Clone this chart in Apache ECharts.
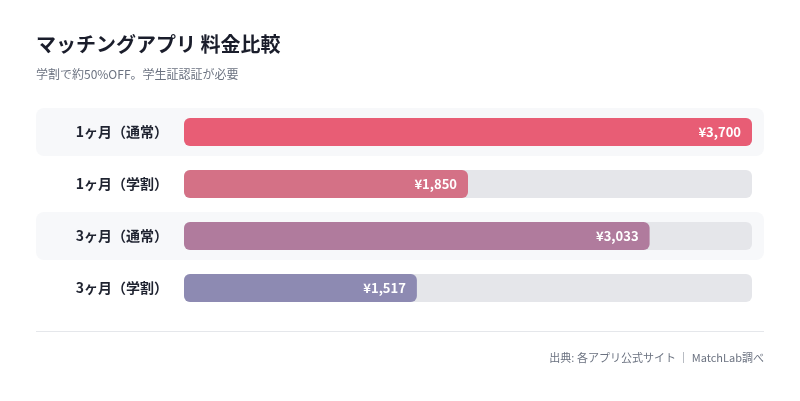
<!DOCTYPE html>
<html>
<head>
<meta charset="utf-8">
<script src="https://cdn.jsdelivr.net/npm/echarts@6/dist/echarts.min.js"></script>
<style>
  html, body { margin: 0; padding: 0; background: #fff; }
  #main { width: 800px; height: 401px; }
</style>
</head>
<body>
<div id="main"></div>
<script>
  // データ
  var plans = ['1ヶ月（通常）', '1ヶ月（学割）', '3ヶ月（通常）', '3ヶ月（学割）'];
  var prices = [3700, 1850, 3033, 1517];
  var barColors = ['#e85d75', '#d47186', '#b07b9d', '#8d8ab2'];
  var stripedRows = [0, 2];

  var FONT = '"Noto Sans CJK JP", "Noto Sans", sans-serif';
  var myChart = echarts.init(document.getElementById('main'));

  var option = {
    backgroundColor: '#ffffff',
    animation: false,
    textStyle: { fontFamily: FONT },
    grid: { left: 184, right: 48, top: 106, bottom: 87, containLabel: false },
    xAxis: {
      type: 'value',
      min: 0,
      max: 3700,
      show: false
    },
    yAxis: {
      type: 'category',
      data: plans,
      inverse: true,
      axisLine: { show: false },
      axisTick: { show: false },
      axisLabel: {
        margin: 16,
        color: '#1f2330',
        fontSize: 14,
        fontWeight: 'bold',
        fontFamily: FONT
      }
    },
    graphic: [
      {
        type: 'text', left: 36, top: 34,
        style: { text: 'マッチングアプリ 料金比較', fill: '#1a1d2b', fontSize: 20, fontWeight: 'bold', fontFamily: FONT }
      },
      {
        type: 'text', left: 36, top: 68,
        style: { text: '学割で約50%OFF。学生証認証が必要', fill: '#6b7280', fontSize: 12, fontFamily: FONT }
      },
      {
        type: 'rect', left: 36, top: 331,
        shape: { width: 728, height: 1 },
        style: { fill: '#e5e7eb' }
      },
      {
        type: 'text', right: 36, top: 352,
        style: { text: '出典: 各アプリ公式サイト ｜ MatchLab調べ', fill: '#6b7280', fontSize: 11, fontFamily: FONT }
      }
    ],
    series: [
      {
        // 行の背景（交互）
        type: 'custom',
        silent: true,
        z: 0,
        data: stripedRows.map(function (i) { return [0, i]; }),
        encode: { x: 0, y: 1 },
        renderItem: function (params, api) {
          var c = api.coord([0, api.value(1)]);
          var band = api.size([0, 1])[1];
          var h = band - 4;
          return {
            type: 'rect',
            shape: { x: 36, y: c[1] - h / 2, width: 728, height: h, r: 8 },
            style: { fill: '#f7f8fa' }
          };
        }
      },
      {
        type: 'bar',
        z: 2,
        barWidth: 28,
        data: prices.map(function (v, i) {
          return { value: v, itemStyle: { color: barColors[i] } };
        }),
        itemStyle: { borderRadius: 6 },
        showBackground: true,
        backgroundStyle: { color: '#e5e6ea', borderRadius: 6 },
        label: {
          show: true,
          position: 'insideRight',
          distance: 11,
          color: '#ffffff',
          fontSize: 13,
          fontWeight: 'bold',
          fontFamily: FONT,
          formatter: function (p) { return '¥' + p.value.toLocaleString('en-US'); }
        }
      }
    ]
  };

  myChart.setOption(option);
</script>
</body>
</html>
